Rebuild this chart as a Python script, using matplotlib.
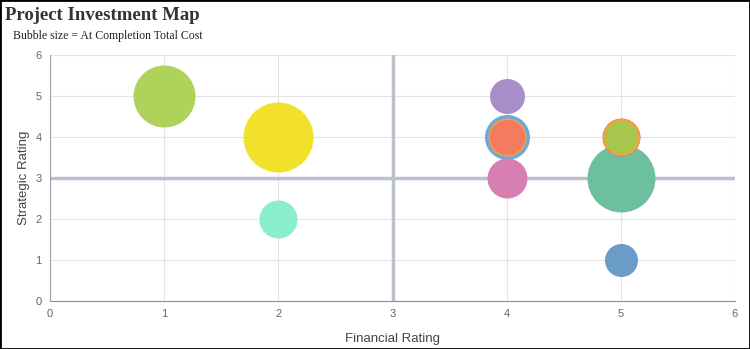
import numpy as np
import matplotlib.pyplot as plt

# project data
financial = [1, 2, 2, 4, 4, 4, 4, 4, 5, 5, 5, 5, 5]
strategic = [5, 4, 2, 5, 4, 4, 4, 3, 4, 4, 4, 3, 1]
# bubble diameter in pixels (proportional to sqrt of cost)
diam_px = [62, 70, 38, 35, 45, 38, 35, 40, 38, 37, 33, 68, 33]
colors = ['#afd25a', '#f1e12a', '#88efca', '#a88ec8', '#6fa8dc', '#f5a23a', '#f47a60',
          '#d67fb0', '#e0704a', '#f5a23a', '#a6c64e', '#6cc0a0', '#6b9cc8']

plt.rcParams['font.family'] = ['Liberation Sans', 'DejaVu Sans']

fig = plt.figure(figsize=(7.5, 3.49), dpi=100)
ax = fig.add_axes([50/750, 1-301/349, 685/750, 246/349])

sizes = [(d*0.72)**2 for d in diam_px]
order = np.argsort(sizes)[::-1]
for i in order:
    ax.scatter(financial[i], strategic[i], s=sizes[i], color=colors[i], zorder=3, linewidths=0)

# quadrant lines
ax.axvline(3, color='#b9c2cc', lw=2.5, zorder=2)
ax.axhline(3, color='#b9c2cc', lw=2.5, zorder=2)

ax.set_xlim(0, 6)
ax.set_ylim(0, 6)
ax.set_xticks(range(7))
ax.set_yticks(range(7))
ax.grid(True, color='#e3e3e3', lw=0.8, zorder=0)
for s in ['top', 'right']:
    ax.spines[s].set_visible(False)
ax.spines['left'].set_color('#9aa0a8')
ax.spines['bottom'].set_color('#8a90a0')
ax.tick_params(colors='#666666', labelsize=8, length=0, pad=6)
ax.set_xlabel('Financial Rating', fontsize=9.5, color='#444444', labelpad=10)
ax.set_ylabel('Strategic Rating', fontsize=9.5, color='#444444', labelpad=4)

fig.text(5/750, 1-16/349, 'Project Investment Map', fontsize=13.5, fontweight='bold',
         family='Liberation Serif', color='#333333', va='center')
fig.text(13/750, 1-36/349, 'Bubble size = At Completion Total Cost', fontsize=8.5,
         family='Liberation Serif', color='#222222', va='center')

# figure border
fig.patches.append(plt.Rectangle((0, 0), 1, 1, transform=fig.transFigure, fill=False,
                                 edgecolor='black', lw=2))

fig.savefig('out.png', dpi=100)
